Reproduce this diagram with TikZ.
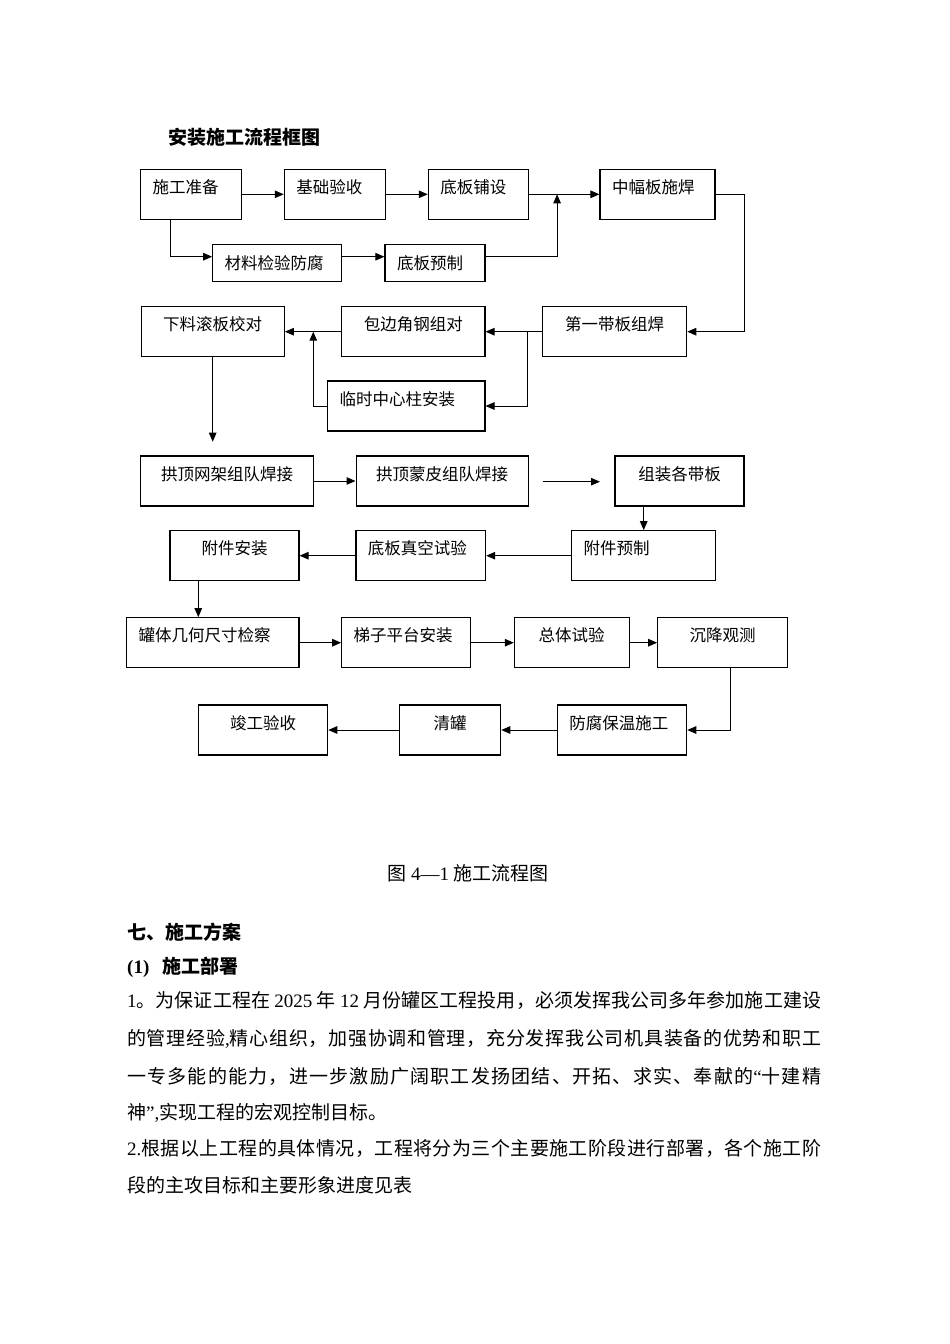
\documentclass[tikz,border=0pt]{standalone}
\usepackage{fontspec}
\setmainfont{Noto Sans CJK SC}
\newfontfamily\latinfont{Liberation Serif}
\usetikzlibrary{arrows.meta, positioning, calc}

% stretchable gaps between Chinese characters, for the justified lines
\newcount\cjkcode
\cjkcode="4E00
\loop
  \XeTeXcharclass\cjkcode=1
  \advance\cjkcode by 1
\ifnum\cjkcode<"A000 \repeat
\XeTeXcharclass"3001=1
\XeTeXcharclass"3002=1
\XeTeXcharclass"FF0C=1
\XeTeXinterchartoks 1 1 = {\hskip 0pt plus 3pt minus 0.4pt\relax}
\XeTeXinterchartokenstate=1

\newcommand{\lat}[1]{{\latinfont #1}}
\newcommand{\boxfont}{\fontsize{16.5}{19}\selectfont}
\newcommand{\bodyfont}{\fontsize{19}{23}\selectfont}
\newcommand{\fullline}[1]{\makebox[694pt][s]{#1}}

\tikzstyle{process} = [rectangle, draw=black, line width=1.1pt, minimum height=50pt, inner xsep=12pt, inner ysep=2pt, text height=14.5pt, text depth=16.3pt, font=\boxfont]
\tikzstyle{processleft} = [process, align=left]
\tikzstyle{short} = [minimum height=37.4pt, text depth=2.2pt]
\tikzstyle{arrow} = [line width=1pt, ->, >={Triangle[length=9pt,width=7.5pt]}]
\tikzstyle{heading} = [inner sep=0pt, anchor=west, font=\bodyfont\bfseries]
\tikzstyle{bodyline} = [inner sep=0pt, anchor=west, font=\bodyfont]

\begin{document}
\begin{tikzpicture}[x=1pt, y=-1pt]
\useasboundingbox (0,0) rectangle (950,1344);

\node (title) [heading] at (168,137) {安装施工流程框图};

% first rows
\node (prep) [processleft, text width=77pt] at (191.2,194.3) {施工准备};
\node (accept) [processleft, text width=77.4pt] at (335,194.3) {基础验收};
\node (lay) [processleft, text width=76pt] at (478.3,194.3) {底板铺设};
\node (weld) [processleft, text width=91pt] at (657.5,194.3) {中幅板施焊};
\node (material) [processleft, short, text width=105pt] at (277.2,263) {材料检验防腐};
\node (prefab) [processleft, short, text width=76pt] at (435,263) {底板预制};

\node (cut) [process, minimum width=143.3pt] at (212.7,331.7) {下料滚板校对};
\node (angle) [process, minimum width=143.3pt] at (413.3,331.7) {包边角钢组对};
\node (first) [process, minimum width=144pt] at (614.7,331.7) {第一带板组焊};
\node (column) [processleft, text width=133.3pt] at (406.3,406) {临时中心柱安装};

% roof and shell
\node (net) [process, minimum width=172.6pt] at (227,481) {拱顶网架组队焊接};
\node (skin) [process, minimum width=172.3pt] at (442.2,481) {拱顶蒙皮组队焊接};
\node (ring) [process, minimum width=129pt] at (679.5,481) {组装各带板};

\node (fitting) [process, minimum width=129pt] at (234.5,555.7) {附件安装};
\node (vacuum) [processleft, text width=105.7pt] at (420.8,555.7) {底板真空试验};
\node (attach) [processleft, text width=120pt] at (643.7,555.7) {附件预制};

\node (inspect) [processleft, text width=148.3pt] at (212.8,642.7) {罐体几何尺寸检察};
\node (ladder) [processleft, text width=105pt] at (406.2,642.7) {梯子平台安装};
\node (test) [process, minimum width=114.7pt] at (571.7,642.7) {总体试验};
\node (settle) [process, minimum width=129.6pt] at (722.5,642.7) {沉降观测};

\node (done) [process, minimum width=129.4pt] at (263,730) {竣工验收};
\node (clean) [process, minimum width=101.4pt] at (450,730) {清罐};
\node (paint) [processleft, text width=105.4pt] at (622,730) {防腐保温施工};

\coordinate (cutend) at (212.7,441.7);
\coordinate (gapstart) at (542.7,481.7);
\coordinate (gapend) at (600,481.7);

\draw [arrow] (prep.east) -- (accept.west);
\draw [arrow] (accept.east) -- (lay.west);
\draw [arrow] (lay.east) -- (weld.west);
\draw [arrow] ([xshift=-21.2pt]prep.south) |- ([yshift=6.3pt]material.west);
\draw [arrow] ([yshift=6.3pt]material.east) -- ([yshift=6.3pt]prefab.west);
\draw [arrow] ([yshift=6.3pt]prefab.east) -| ($(lay.east)!0.4!(weld.west)$);
\draw [arrow] (weld.east) -- ++(29,0) |- (first.east);
\draw [arrow] (first.west) -- (angle.east);
\draw [arrow] ($(angle.east)!0.75!(first.west)$) |- (column.east);
\draw [arrow] (angle.west) -- (cut.east);
\draw [arrow] (column.west) -| ($(cut.east)!0.505!(angle.west)$);
\draw [arrow] (cut.south) -- (cutend);
\draw [arrow] (net.east) -- (skin.west);
\draw [arrow] (gapstart) -- (gapend);
\draw [arrow] (ring.south -| attach.north) -- (attach.north);
\draw [arrow] (attach.west) -- (vacuum.east);
\draw [arrow] (vacuum.west) -- (fitting.east);
\draw [arrow] ([xshift=-36.2pt]fitting.south) -- ([xshift=-36.2pt]fitting.south |- inspect.north);
\draw [arrow] (inspect.east) -- (ladder.west);
\draw [arrow] (ladder.east) -- (test.west);
\draw [arrow] (test.east) -- (settle.west);
\draw [arrow] ([xshift=7.5pt]settle.south) |- (paint.east);
\draw [arrow] (paint.west) -- (clean.east);
\draw [arrow] (clean.west) -- (done.east);

% caption and text below
\node (caption) [inner sep=0pt, font=\bodyfont] at (468,873) {图\lat{ 4—1 }施工流程图};
\node (part) [heading] at (127,932.5) {七、施工方案};
\node (sub) [heading] at (127,967) {\lat{(1)}\hspace{13pt}施工部署};
\node (line1) [bodyline] at (127,1000.8) {\fullline{\lat{1}。为保证工程在 \lat{2025} 年 \lat{12} 月份罐区工程投用，必须发挥我公司多年参加施工建设}};
\node (line2) [bodyline] at (127,1039) {\fullline{的管理经验\lat{,}精心组织，加强协调和管理，充分发挥我公司机具装备的优势和职工}};
\node (line3) [bodyline] at (127,1076.7) {\fullline{一专多能的能力，进一步激励广阔职工发扬团结、开拓、求实、奉献的\lat{“}十建精}};
\node (line4) [bodyline] at (127,1113.3) {神\lat{”,}实现工程的宏观控制目标。};
\node (line5) [bodyline] at (127,1148.3) {\fullline{\lat{2.}根据以上工程的具体情况，工程将分为三个主要施工阶段进行部署，各个施工阶}};
\node (line6) [bodyline] at (127,1185) {段的主攻目标和主要形象进度见表};
\end{tikzpicture}
\end{document}
